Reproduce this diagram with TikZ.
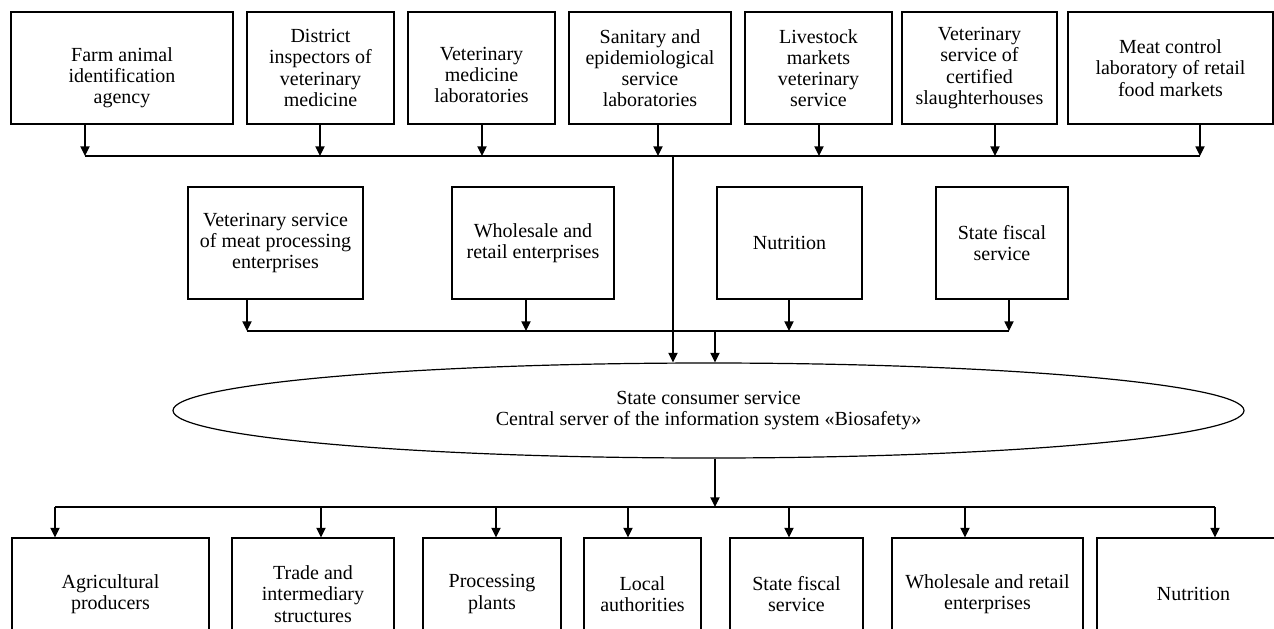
\documentclass[tikz,border=0pt]{standalone}
\usepackage{fontspec}
\setmainfont{Liberation Serif}
\usetikzlibrary{arrows.meta,shapes.geometric}
\tikzset{
  box/.style={draw,line width=0.6pt,align=center,inner sep=1pt,minimum height=56pt},
  arr/.style={-{Triangle[length=4.8pt,width=4.6pt]}},
}
\begin{document}
\begin{tikzpicture}[x=0.5pt,y=-0.5pt,line width=0.6pt,
    font=\fontsize{10pt}{10.6pt}\selectfont]
  \useasboundingbox (0,0) rectangle (1274,628);
  % top row
  \node[box,minimum width=111pt,text height=38pt] (t1) at (122,68) {Farm animal\\identification\\agency};
  \node[box,minimum width=73.5pt] (t2) at (320.5,68) {District\\inspectors of\\veterinary\\medicine};
  \node[box,minimum width=73.5pt,text height=35pt] (t3) at (481.5,68) {Veterinary\\medicine\\laboratories};
  \node[box,minimum width=81pt] (t4) at (650,68) {Sanitary and\\epidemiological\\service\\laboratories};
  \node[box,minimum width=73.5pt] (t5) at (818.5,68) {Livestock\\markets\\veterinary\\service};
  \node[box,minimum width=77.5pt] (t6) at (979.5,68) {Veterinary\\service of\\certified\\slaughterhouses};
  \node[box,minimum width=102.5pt] (t7) at (1170.5,68) {Meat control\\laboratory of retail\\food markets};
  % middle row
  \node[box,minimum width=87.5pt] (m1) at (275.5,243) {Veterinary service\\of meat processing\\enterprises};
  \node[box,minimum width=81pt] (m2) at (533,243) {Wholesale and\\retail enterprises};
  \node[box,minimum width=72.5pt] (m3) at (789.5,243) {Nutrition};
  \node[box,minimum width=66pt] (m4) at (1002,243) {State fiscal\\service};
  % server
  \node[draw,ellipse,inner sep=0pt,minimum width=535.5pt,minimum height=47.5pt,align=center]
    (srv) at (708.5,410.5) {State consumer service\\Central server of the information system «Biosafety»};
  % bottom row
  \node[box,minimum width=98.5pt] (p1) at (110.5,594) {Agricultural\\producers};
  \node[box,minimum width=81pt] (p2) at (313,594) {Trade and\\intermediary\\structures};
  \node[box,minimum width=69pt] (p3) at (492,594) {Processing\\plants};
  \node[box,minimum width=58.5pt] (p4) at (642.5,594) {Local\\authorities};
  \node[box,minimum width=66.5pt] (p5) at (796.5,594) {State fiscal\\service};
  \node[box,minimum width=95.5pt] (p6) at (987.5,594) {Wholesale and retail\\enterprises};
  \node[box,minimum width=96.5pt] (p7) at (1193.5,594) {Nutrition};
  % bus points
  \coordinate (a1) at (85,156);
  \coordinate (a2) at (320,156);
  \coordinate (a3) at (482,156);
  \coordinate (a4) at (658,156);
  \coordinate (a5) at (819,156);
  \coordinate (a6) at (995,156);
  \coordinate (a7) at (1200,156);
  \coordinate (ja) at (673,156);
  \coordinate (b1) at (247,331);
  \coordinate (b2) at (526,331);
  \coordinate (b3) at (789,331);
  \coordinate (b4) at (1009,331);
  \coordinate (jb) at (715,331);
  \coordinate (c1) at (55,507);
  \coordinate (c2) at (321,507);
  \coordinate (c3) at (496,507);
  \coordinate (c4) at (628,507);
  \coordinate (c5) at (789,507);
  \coordinate (c6) at (965,507);
  \coordinate (c7) at (1215,507);
  \coordinate (jc) at (715,507);
  \begin{scope}[arr]
    \draw (a1 |- t1.south) to (a1);
    \draw (a2 |- t2.south) to (a2);
    \draw (a3 |- t3.south) to (a3);
    \draw (a4 |- t4.south) to (a4);
    \draw (a5 |- t5.south) to (a5);
    \draw (a6 |- t6.south) to (a6);
    \draw (a7 |- t7.south) to (a7);
    \draw (b1 |- m1.south) to (b1);
    \draw (b2 |- m2.south) to (b2);
    \draw (b3 |- m3.south) to (b3);
    \draw (b4 |- m4.south) to (b4);
    \draw (ja) to (ja |- srv.north);
    \draw (jb) to (jb |- srv.north);
    \draw (jc |- srv.south) to (jc);
    \draw (c1) to (c1 |- p1.north);
    \draw (c2) to (c2 |- p2.north);
    \draw (c3) to (c3 |- p3.north);
    \draw (c4) to (c4 |- p4.north);
    \draw (c5) to (c5 |- p5.north);
    \draw (c6) to (c6 |- p6.north);
    \draw (c7) to (c7 |- p7.north);
  \end{scope}
  \draw (a1) -- (a7);
  \draw (b1) -- (b4);
  \draw (c1) -- (c7);
\end{tikzpicture}
\end{document}
